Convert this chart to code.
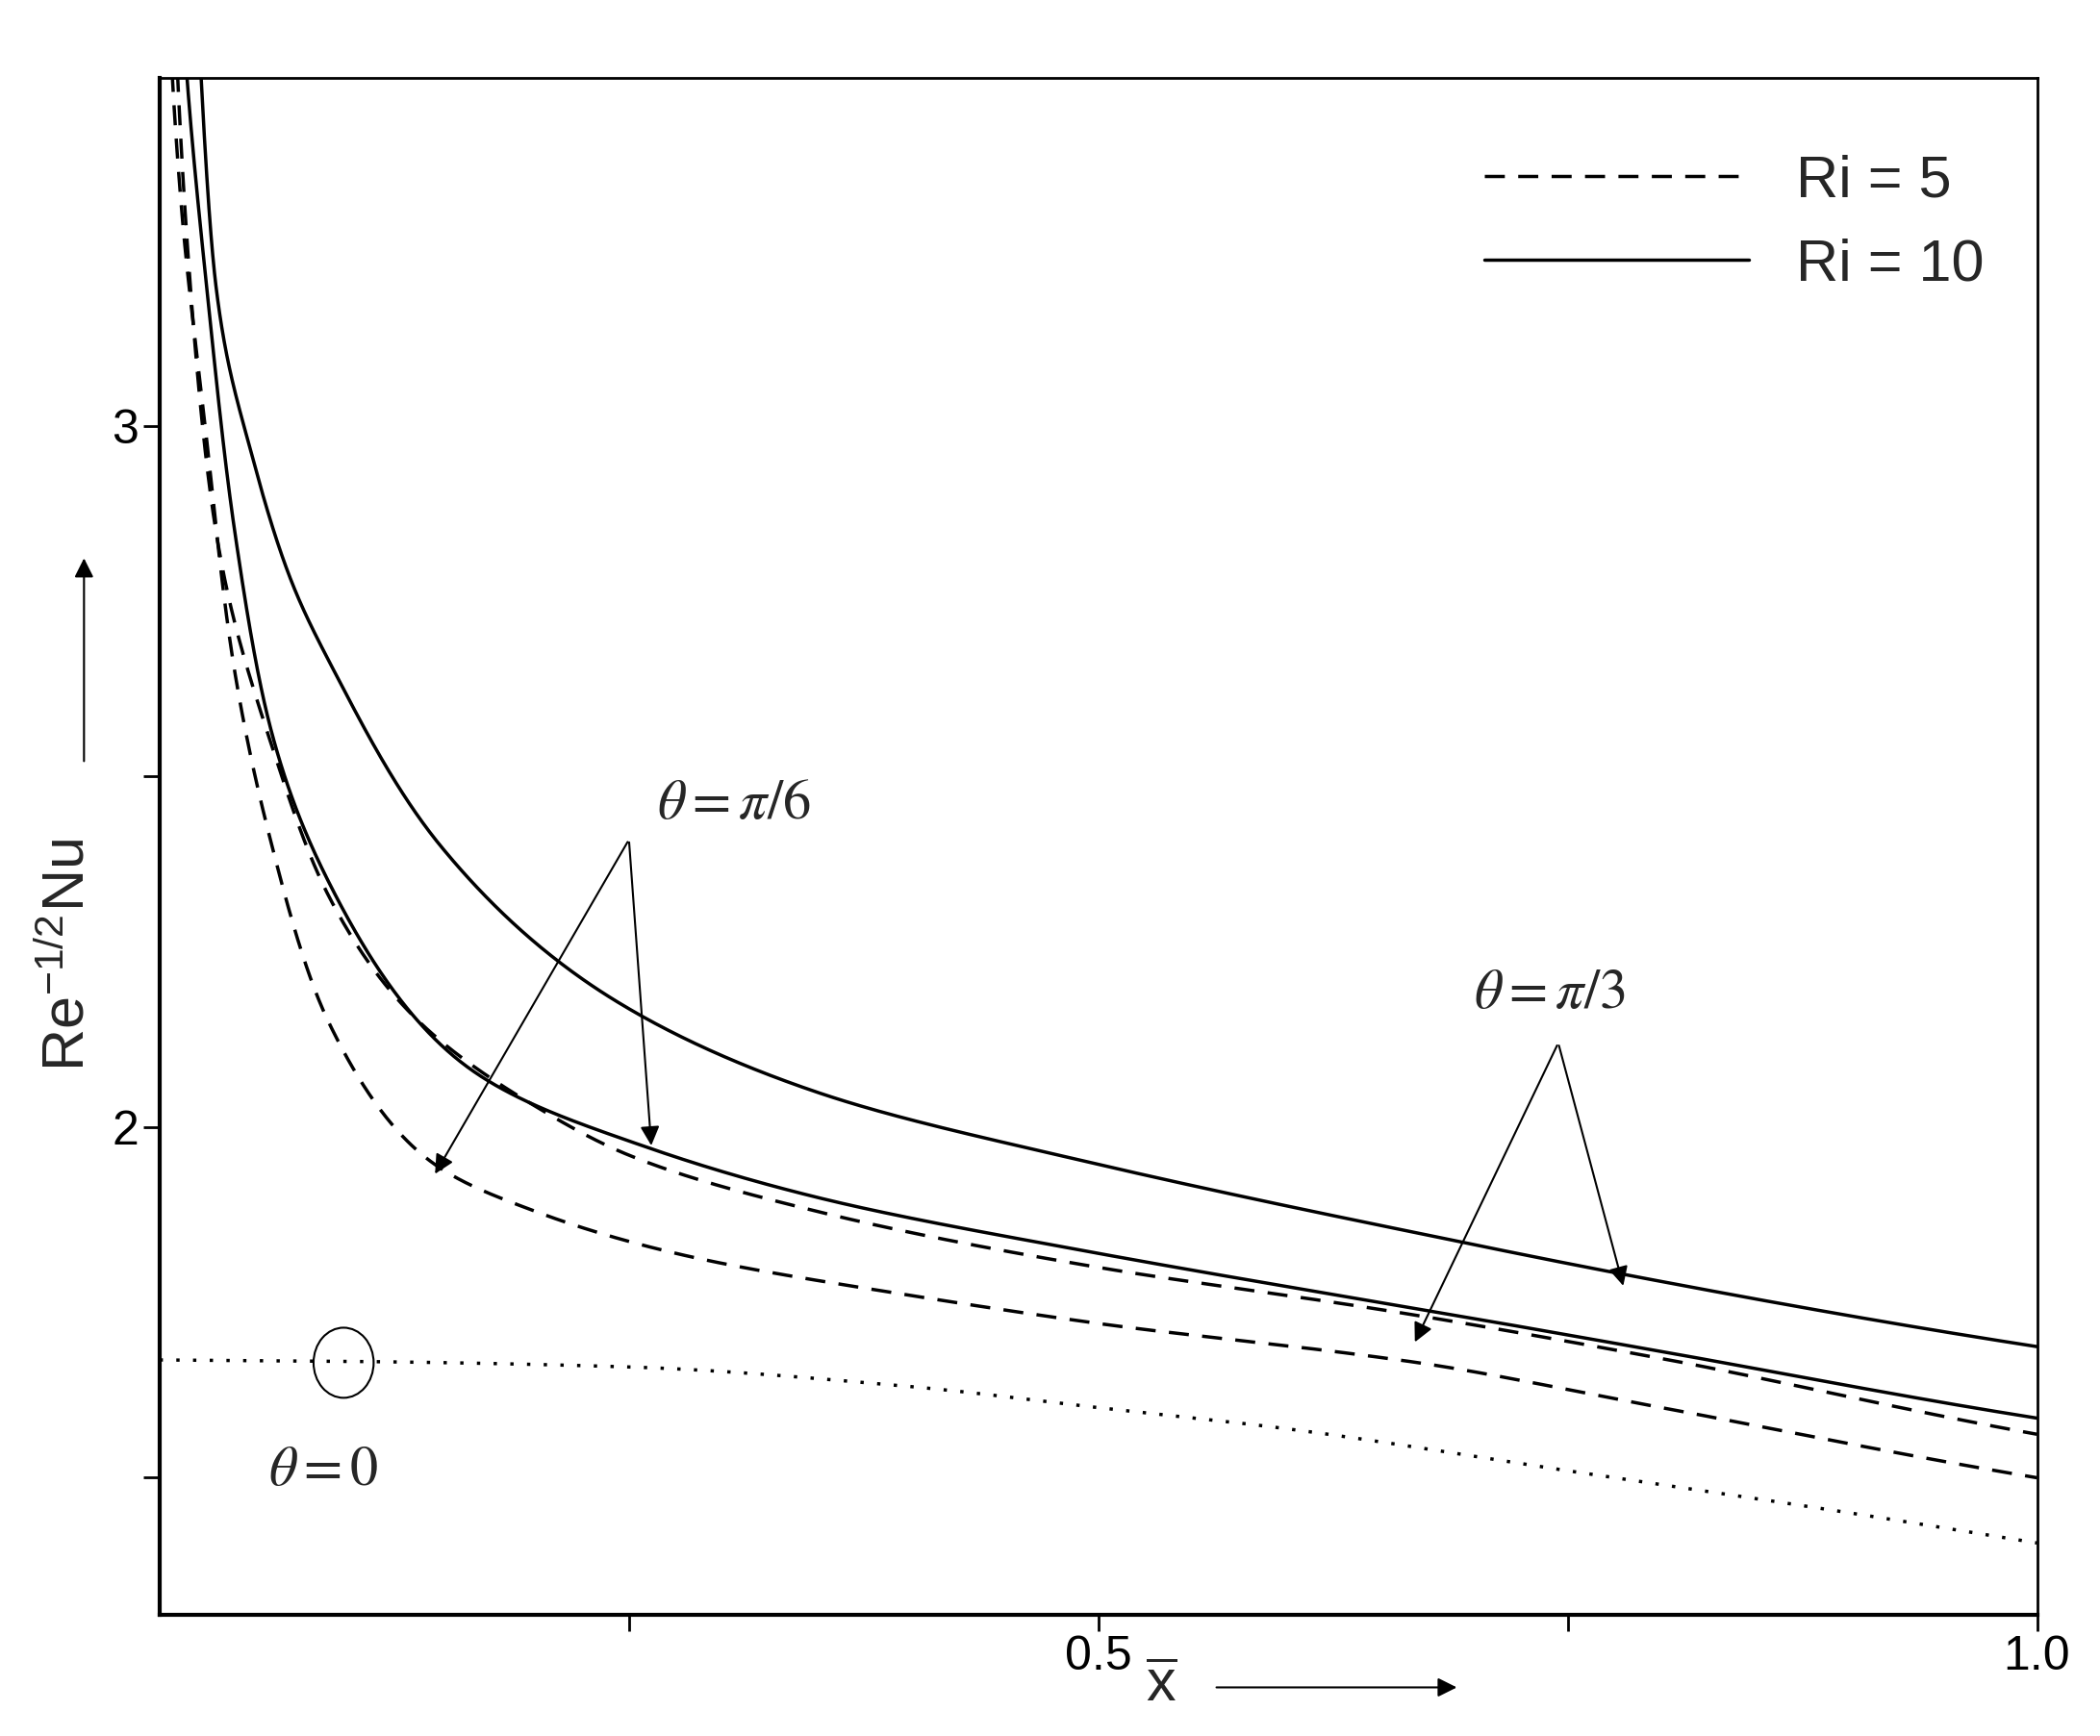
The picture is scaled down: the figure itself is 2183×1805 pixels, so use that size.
import numpy as np, pandas as pd, matplotlib
matplotlib.use("Agg")
import matplotlib.pyplot as plt, seaborn as sns
from matplotlib.patches import Ellipse, FancyArrowPatch
from matplotlib.lines import Line2D

sns.set_style("white")
plt.rcParams['font.family'] = ['Liberation Sans', 'DejaVu Sans']
plt.rcParams['mathtext.fontset'] = 'stix'

# Data
x_theta0 = [0.0, 0.1, 0.25, 0.4, 0.5, 0.6, 0.75, 0.9, 1.0]
y_theta0 = [1.668, 1.666, 1.658, 1.63, 1.60, 1.57, 1.51, 1.45, 1.407]
x_ri5_a = [0.005, 0.012, 0.023, 0.04, 0.059, 0.09, 0.146, 0.2, 0.275, 0.4, 0.5, 0.668, 0.8, 1.0]
y_ri5_a = [3.6, 3.3, 3.03, 2.65, 2.41, 2.15, 1.948, 1.88, 1.82, 1.76, 1.72, 1.665, 1.60, 1.50]
x_ri5_b = [0.008, 0.015, 0.03, 0.059, 0.09, 0.131, 0.2, 0.25, 0.35, 0.5, 0.65, 0.8, 1.0]
y_ri5_b = [3.6, 3.25, 2.85, 2.55, 2.33, 2.17, 2.03, 1.96, 1.88, 1.80, 1.74, 1.67, 1.562]
x_ri10_a = [0.012, 0.025, 0.04, 0.059, 0.09, 0.167, 0.261, 0.35, 0.5, 0.672, 0.8, 1.0]
y_ri10_a = [3.6, 3.2, 2.85, 2.57, 2.35, 2.08, 1.97, 1.90, 1.82, 1.74, 1.68, 1.585]
x_ri10_b = [0.02, 0.03, 0.05, 0.07, 0.095, 0.15, 0.243, 0.35, 0.495, 0.65, 0.78, 1.0]
y_ri10_b = [3.6, 3.2, 2.95, 2.78, 2.64, 2.40, 2.18, 2.05, 1.95, 1.86, 1.79, 1.687]

def pchip(xs, ys, xq):
    xs = np.asarray(xs, float); ys = np.asarray(ys, float)
    h = np.diff(xs); d = np.diff(ys) / h
    m = np.zeros_like(xs)
    m[0], m[-1] = d[0], d[-1]
    for i in range(1, len(xs) - 1):
        if d[i-1] * d[i] > 0:
            w1 = 2*h[i] + h[i-1]; w2 = h[i] + 2*h[i-1]
            m[i] = (w1 + w2) / (w1/d[i-1] + w2/d[i])
    idx = np.clip(np.searchsorted(xs, xq) - 1, 0, len(xs) - 2)
    t = (xq - xs[idx]) / h[idx]
    h00 = 2*t**3 - 3*t**2 + 1; h10 = t**3 - 2*t**2 + t
    h01 = -2*t**3 + 3*t**2; h11 = t**3 - t**2
    return h00*ys[idx] + h10*h[idx]*m[idx] + h01*ys[idx+1] + h11*h[idx]*m[idx+1]

frames = []
for name, xs, ys in [("t0", x_theta0, y_theta0), ("r5a", x_ri5_a, y_ri5_a),
                     ("r5b", x_ri5_b, y_ri5_b), ("r10a", x_ri10_a, y_ri10_a),
                     ("r10b", x_ri10_b, y_ri10_b)]:
    if xs[0] > 0:
        lx = np.log(xs)
        xq = np.exp(np.linspace(lx[0], lx[-1], 600))
        yq = pchip(lx, ys, np.log(xq))
    else:
        xq = np.linspace(xs[0], xs[-1], 600)
        yq = pchip(xs, ys, xq)
    frames.append(pd.DataFrame({"x": xq, "y": yq, "c": name}))
df = pd.concat(frames)

fig = plt.figure(figsize=(21.83, 18.05), dpi=100)
ax = fig.add_axes([0.076, 0.070, 0.894, 0.885])
styles = {"t0": (0, (1, 4)), "r5a": (0, (6, 4)), "r5b": (0, (6, 4)), "r10a": "-", "r10b": "-"}
for name, sub in df.groupby("c"):
    sns.lineplot(data=sub, x="x", y="y", ax=ax, color="black", lw=2.5,
                 linestyle=styles[name], legend=False, sort=False)
ax.set_xlim(0, 1.0); ax.set_ylim(1.305, 3.496)
ax.set_xticks([0.25, 0.5, 0.75, 1.0]); ax.set_xticklabels(["", "0.5", "", "1.0"])
ax.set_yticks([1.5, 2, 2.5, 3]); ax.set_yticklabels(["", "2", "", "3"])
ax.tick_params(direction="out", length=12, width=2, labelsize=36, left=True, bottom=True, colors="black")
ax.set_xlabel(""); ax.set_ylabel("")
for s in ["left", "bottom"]: ax.spines[s].set_linewidth(3)
for s in ["top", "right"]: ax.spines[s].set_linewidth(2)
for s in ax.spines.values(): s.set_color("black")

h = [Line2D([], [], color="black", lw=2.5, ls=(0, (6, 4))), Line2D([], [], color="black", lw=2.5)]
ax.legend(h, ["Ri = 5", "Ri = 10"], loc="upper right", frameon=False, fontsize=44,
          handlelength=4.5, bbox_to_anchor=(1.0, 0.985))

ap = dict(arrowstyle="-|>", color="black", lw=1.5, mutation_scale=30)
ax.text(0.265, 2.44, r"$\theta = \pi/6$", fontsize=42)
ax.annotate("", xy=(0.146, 1.93), xytext=(0.25, 2.41), arrowprops=ap)
ax.annotate("", xy=(0.262, 1.97), xytext=(0.25, 2.41), arrowprops=ap)
ax.text(0.70, 2.17, r"$\theta = \pi/3$", fontsize=42)
ax.annotate("", xy=(0.668, 1.69), xytext=(0.745, 2.12), arrowprops=ap)
ax.annotate("", xy=(0.78, 1.77), xytext=(0.745, 2.12), arrowprops=ap)
ax.text(0.058, 1.49, r"$\theta = 0$", fontsize=42)
ax.add_patch(Ellipse((0.098, 1.664), 0.032, 0.1, fill=False, lw=1.5, color="black"))

fig.text(0.033, 0.45, r"Re$^{\mathregular{-1/2}}$Nu", rotation=90, fontsize=44, va="center", ha="center")
fig.add_artist(FancyArrowPatch((0.040, 0.56), (0.040, 0.68), transform=fig.transFigure,
               arrowstyle="-|>", mutation_scale=30, lw=1.5, color="black"))
fig.text(0.553, 0.020, r"$\overline{\mathregular{x}}$", fontsize=44, ha="center")
fig.add_artist(FancyArrowPatch((0.578, 0.028), (0.695, 0.028), transform=fig.transFigure,
               arrowstyle="-|>", mutation_scale=30, lw=1.5, color="black"))
fig.savefig("out.png", dpi=100, facecolor="white")
